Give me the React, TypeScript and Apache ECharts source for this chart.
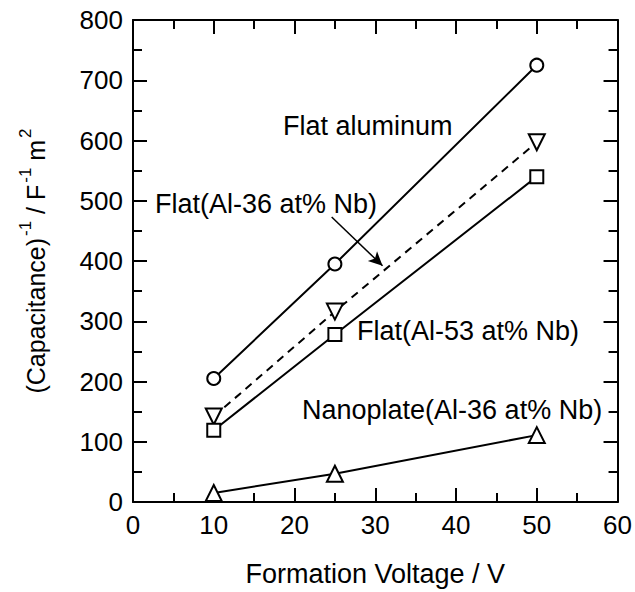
import React, { useEffect, useRef } from "react";
import * as echarts from "echarts";

const FONT = "'Liberation Sans', Arial, sans-serif";

const voltages = [10, 25, 50];
const flatAluminum = [205, 395, 725];
const flatAl36Nb = [142, 316, 597];
const flatAl53Nb = [119, 278, 540];
const nanoplateAl36Nb = [15, 47, 111];

const xTicks = { min: 0, max: 60, interval: 10 };
const yTicks = { min: 0, max: 800, interval: 100 };

const arrowFrom = [24.6, 473];
const arrowTo = [30.9, 392];

const pairs = (ys: number[]) => voltages.map((x, i) => [x, ys[i]]);

export default function App() {
  const ref = useRef<HTMLDivElement>(null);
  useEffect(() => {
    if (!ref.current) return;
    const chart = echarts.init(ref.current, null, { renderer: "svg" });
    const axisCommon = (showLabel: boolean) => ({
      type: "value",
      axisLine: { show: true, onZero: false, lineStyle: { color: "#000", width: 2 } },
      axisTick: { show: true, inside: true, length: 14, lineStyle: { color: "#000", width: 2 } },
      minorTick: { show: true, splitNumber: 2, length: 9, lineStyle: { color: "#000", width: 2 } },
      splitLine: { show: false },
      minorSplitLine: { show: false },
      axisLabel: {
        show: showLabel,
        fontSize: 26,
        color: "#000",
        fontFamily: FONT,
        margin: 10,
      },
    });
    const lineSeries = (name: string, ys: number[], symbol: string, size: number, extra: any = {}) => ({
      type: "line",
      name,
      data: pairs(ys),
      symbol,
      symbolSize: size,
      showAllSymbol: true,
      lineStyle: { color: "#000", width: 2, ...(extra.lineStyle || {}) },
      itemStyle: { color: "#fff", borderColor: "#000", borderWidth: 2 },
      z: 3,
      ...Object.fromEntries(Object.entries(extra).filter(([k]) => k !== "lineStyle")),
    });
    const textStyle = (text: string, x: number, y: number) => ({
      type: "text",
      left: x,
      top: y,
      style: { text, fontSize: 27, fontFamily: FONT, fill: "#000" },
    });
    chart.setOption({
      animation: false,
      backgroundColor: "#fff",
      grid: { left: 133, right: 17, top: 20, bottom: 88, containLabel: false },
      xAxis: [
        {
          ...axisCommon(true),
          ...xTicks,
          position: "bottom",
          name: "Formation Voltage / V",
          nameLocation: "middle",
          nameGap: 58,
          nameTextStyle: { fontSize: 27, color: "#000", fontFamily: FONT },
        },
        { ...axisCommon(false), ...xTicks, position: "top" },
      ],
      yAxis: [
        {
          ...axisCommon(true),
          ...yTicks,
          position: "left",
          name: "{a|(Capacitance)}{s|-1}{a| / F}{s|-1}{a| m}{s|2}",
          nameLocation: "middle",
          nameGap: 82,
          nameRotate: 90,
          nameTextStyle: {
            color: "#000",
            fontFamily: FONT,
            rich: {
              a: { fontSize: 25, fontFamily: FONT, color: "#000", lineHeight: 30 },
              s: { fontSize: 17, fontFamily: FONT, color: "#000", padding: [0, 0, 22, 2], lineHeight: 30 },
            },
          },
        },
        { ...axisCommon(false), ...yTicks, position: "right" },
      ],
      series: [
        lineSeries("Flat aluminum", flatAluminum, "circle", 13),
        lineSeries("Flat(Al-36 at% Nb)", flatAl36Nb, "triangle", 16, {
          symbolRotate: 180,
          lineStyle: { type: [8, 6] },
          markLine: {
            silent: true,
            symbol: ["none", "arrow"],
            symbolSize: [10, 14],
            label: { show: false },
            lineStyle: { color: "#000", width: 1.5, type: "solid" },
            data: [[{ coord: arrowFrom }, { coord: arrowTo }]],
          },
        }),
        lineSeries("Flat(Al-53 at% Nb)", flatAl53Nb, "rect", 13),
        lineSeries("Nanoplate(Al-36 at% Nb)", nanoplateAl36Nb, "triangle", 16),
      ],
      graphic: [
        textStyle("Flat aluminum", 283, 112),
        textStyle("Flat(Al-36 at% Nb)", 155, 190),
        textStyle("Flat(Al-53 at% Nb)", 357, 317),
        textStyle("Nanoplate(Al-36 at% Nb)", 302, 396),
      ],
    });
    return () => chart.dispose();
  }, []);
  return <div ref={ref} style={{ width: 635, height: 592, position: "absolute", left: 0, top: 0 }} />;
}
